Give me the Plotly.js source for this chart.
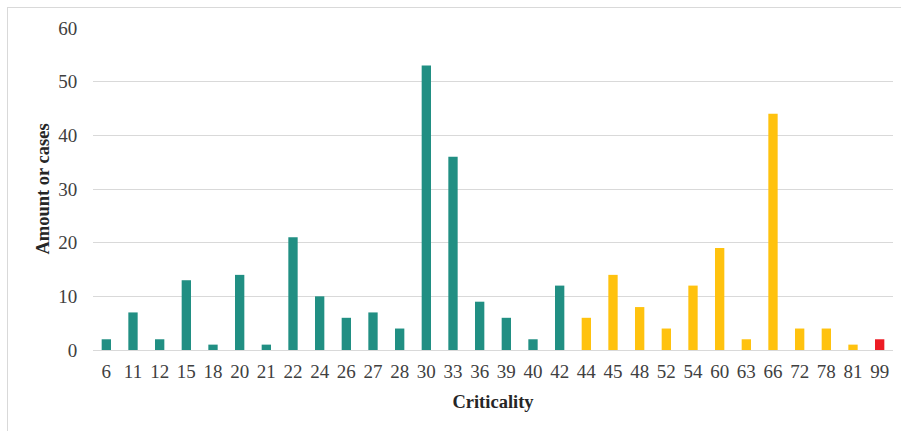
<!DOCTYPE html>
<html>
<head>
<meta charset="utf-8">
<script src="https://cdn.plot.ly/plotly-3.0.1.min.js"></script>
<style>
html,body{margin:0;padding:0;background:#fff;}
#frame{position:absolute;left:7px;top:7px;width:1000px;height:1000px;border-left:1px solid #d9d9d9;border-top:1px solid #d9d9d9;pointer-events:none;}
#chart{position:absolute;left:0;top:0;width:901px;height:431px;}
</style>
</head>
<body>
<div id="chart"></div>
<div id="frame"></div>
<script>
const categories = ['6','11','12','15','18','20','21','22','24','26','27','28','30','33','36','39','40','42','44','45','48','52','54','60','63','66','72','78','81','99'];
const values = [2,7,2,13,1,14,1,21,10,6,7,4,53,36,9,6,2,12,6,14,8,4,12,19,2,44,4,4,1,2];
const levels = ['low','low','low','low','low','low','low','low','low','low','low','low','low','low','low','low','low','low','mid','mid','mid','mid','mid','mid','mid','mid','mid','mid','mid','high'];
const levelColors = {low:'#218f83', mid:'#ffc20e', high:'#ed1c24'};
const yTicks = [0,10,20,30,40,50,60];

const trace = {
  type:'bar',
  x: categories,
  y: values,
  marker:{color: levels.map(l => levelColors[l])},
  hoverinfo:'x+y'
};

const layout = {
  width:901, height:431,
  margin:{l:93, r:8, t:28, b:81},
  paper_bgcolor:'rgba(0,0,0,0)',
  plot_bgcolor:'#fff',
  bargap:0.65,
  showlegend:false,
  font:{family:'"Liberation Serif", "Times New Roman", serif', color:'#404040', size:19},
  xaxis:{
    type:'category',
    tickfont:{size:19, color:'#404040'},
    showgrid:false,
    showline:false,
    ticks:'outside',
    ticklen:4,
    tickcolor:'rgba(0,0,0,0)',
    title:{text:'<b>Criticality</b>', font:{size:18.5, color:'#262626'}, standoff:14}
  },
  yaxis:{
    range:[0,60],
    tickvals:yTicks,
    ticktext:yTicks.map(String),
    tickfont:{size:19, color:'#404040'},
    showgrid:true,
    gridcolor:'#d9d9d9',
    gridwidth:1,
    zeroline:true,
    zerolinecolor:'#d9d9d9',
    zerolinewidth:1,
    ticks:'outside',
    ticklen:11,
    tickcolor:'rgba(0,0,0,0)',
    title:{text:'<b>Amount or cases</b>', font:{size:18.5, color:'#262626'}, standoff:3}
  }
};

Plotly.newPlot('chart',[trace],layout,{displayModeBar:false, staticPlot:true});
</script>
</body>
</html>
